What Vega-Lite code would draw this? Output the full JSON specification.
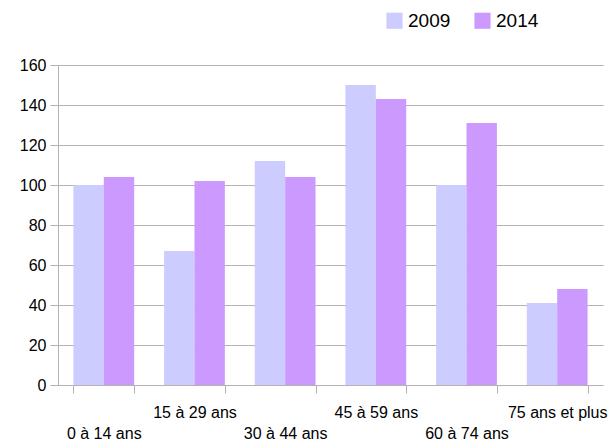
{
  "$schema": "https://vega.github.io/schema/vega-lite/v6.json",
  "width": 545,
  "height": 320,
  "autosize": "none",
  "padding": {"left": 58, "top": 65, "right": 12, "bottom": 56},
  "background": "white",
  "config": {"view": {"stroke": null}, "font": "Liberation Sans"},
  "data": {"values": [
    {"age": "0 à 14 ans", "year": "2009", "v": 100},
    {"age": "0 à 14 ans", "year": "2014", "v": 104},
    {"age": "15 à 29 ans", "year": "2009", "v": 67},
    {"age": "15 à 29 ans", "year": "2014", "v": 102},
    {"age": "30 à 44 ans", "year": "2009", "v": 112},
    {"age": "30 à 44 ans", "year": "2014", "v": 104},
    {"age": "45 à 59 ans", "year": "2009", "v": 150},
    {"age": "45 à 59 ans", "year": "2014", "v": 143},
    {"age": "60 à 74 ans", "year": "2009", "v": 100},
    {"age": "60 à 74 ans", "year": "2014", "v": 131},
    {"age": "75 ans et plus", "year": "2009", "v": 41},
    {"age": "75 ans et plus", "year": "2014", "v": 48}
  ]},
  "mark": "bar",
  "encoding": {
    "x": {"field": "age", "type": "nominal", "title": null, "sort": null,
      "scale": {"paddingInner": 0.33, "paddingOuter": 0.17},
      "axis": {"labelAngle": 0, "tickBand": "extent", "tickSize": 8, "tickColor": "#b3b3b3", "domainColor": "#b3b3b3",
        "labelFontSize": 16, "labelColor": "black", "labelOverlap": false, "labelPadding": 11, "labelLineHeight": 21,
        "labelExpr": "indexof(['0 à 14 ans','30 à 44 ans','60 à 74 ans'], datum.label) >= 0 ? ['', datum.label] : [datum.label]"}},
    "xOffset": {"field": "year", "type": "nominal"},
    "y": {"field": "v", "type": "quantitative", "title": null,
      "scale": {"domain": [0, 160]},
      "axis": {"values": [0,20,40,60,80,100,120,140,160], "labelFontSize": 16, "labelColor": "black",
        "gridColor": "#b3b3b3", "domainColor": "#b3b3b3", "tickColor": "#b3b3b3", "tickSize": 8, "labelPadding": 4}},
    "color": {"field": "year", "type": "nominal",
      "scale": {"domain": ["2009", "2014"], "range": ["#ccccff", "#cc99ff"]},
      "legend": {"title": null, "orient": "none", "direction": "horizontal", "legendX": 327, "legendY": -54,
        "symbolType": "square", "symbolSize": 260, "labelFontSize": 19, "labelColor": "black", "columnPadding": 22}}
  }
}
